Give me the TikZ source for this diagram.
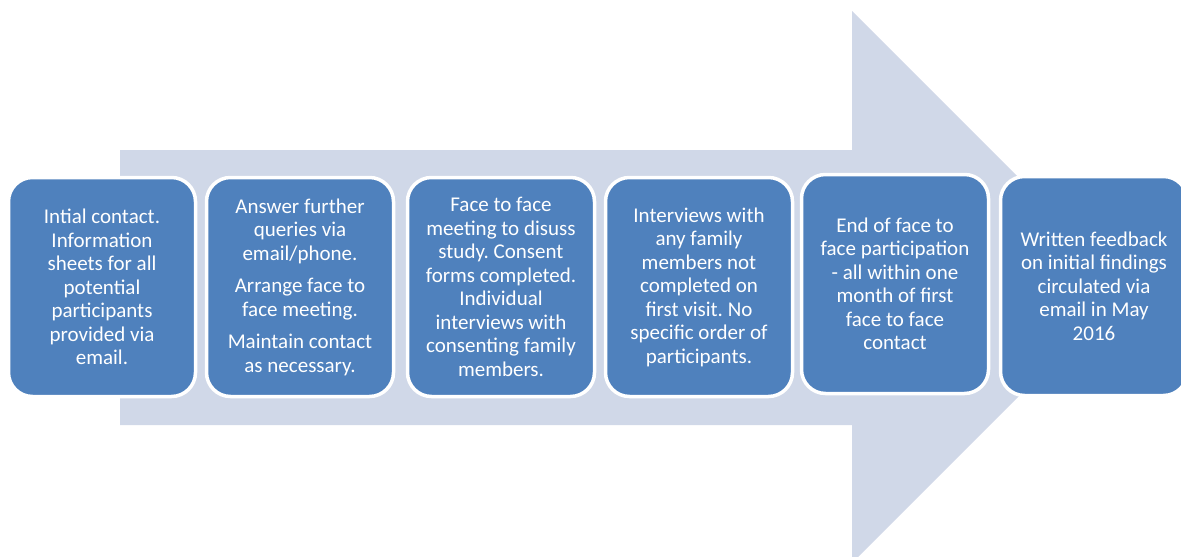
\documentclass[tikz,border=0pt]{standalone}
\usepackage{fontspec}
\setmainfont{Carlito}
\frenchspacing
\definecolor{stageblue}{HTML}{4F81BD}
\definecolor{arrowgrey}{HTML}{D0D8E8}
\tikzset{
  stage/.style={draw=white,line width=3.5pt,fill=stageblue,rounded corners=24pt,
    minimum width=187pt,minimum height=219pt,inner sep=0pt,text=white,
    align=center,font=\fontsize{21}{23.5}\selectfont}
}
\begin{document}
\begin{tikzpicture}[x=1pt,y=-1pt,line join=round]
  \useasboundingbox (0,0) rectangle (1181,557);
  \clip (0,0) rectangle (1181,557);
  % big arrow behind the stages
  \fill[arrowgrey] (120,150) -- (852,150) -- (852,11) -- (1128,287)
    -- (852,563) -- (852,425) -- (120,425) -- cycle;
  % stages from left to right
  \node[stage] (s1) at (102,287) {Intial contact.\\Information\\sheets for all\\potential\\participants\\provided via\\email.};
  \node[stage] (s2) at (300,287) {Answer further\\queries via\\email/phone.\\[9pt]Arrange face to\\face meeting.\\[9pt]Maintain contact\\as necessary.};
  \node[stage] (s3) at (501,287) {Face to face\\meeting to disuss\\study. Consent\\forms completed.\\Individual\\interviews with\\consenting family\\members.};
  \node[stage] (s4) at (699,287) {Interviews with\\any family\\members not\\completed on\\first visit. No\\specific order of\\participants.};
  \node[stage] (s5) at (895,284) {End of face to\\face participation\\- all within one\\month of first\\face to face\\contact};
  \node[stage] (s6) at (1094,286) {Written feedback\\on initial findings\\circulated via\\email in May\\2016};
\end{tikzpicture}
\end{document}
